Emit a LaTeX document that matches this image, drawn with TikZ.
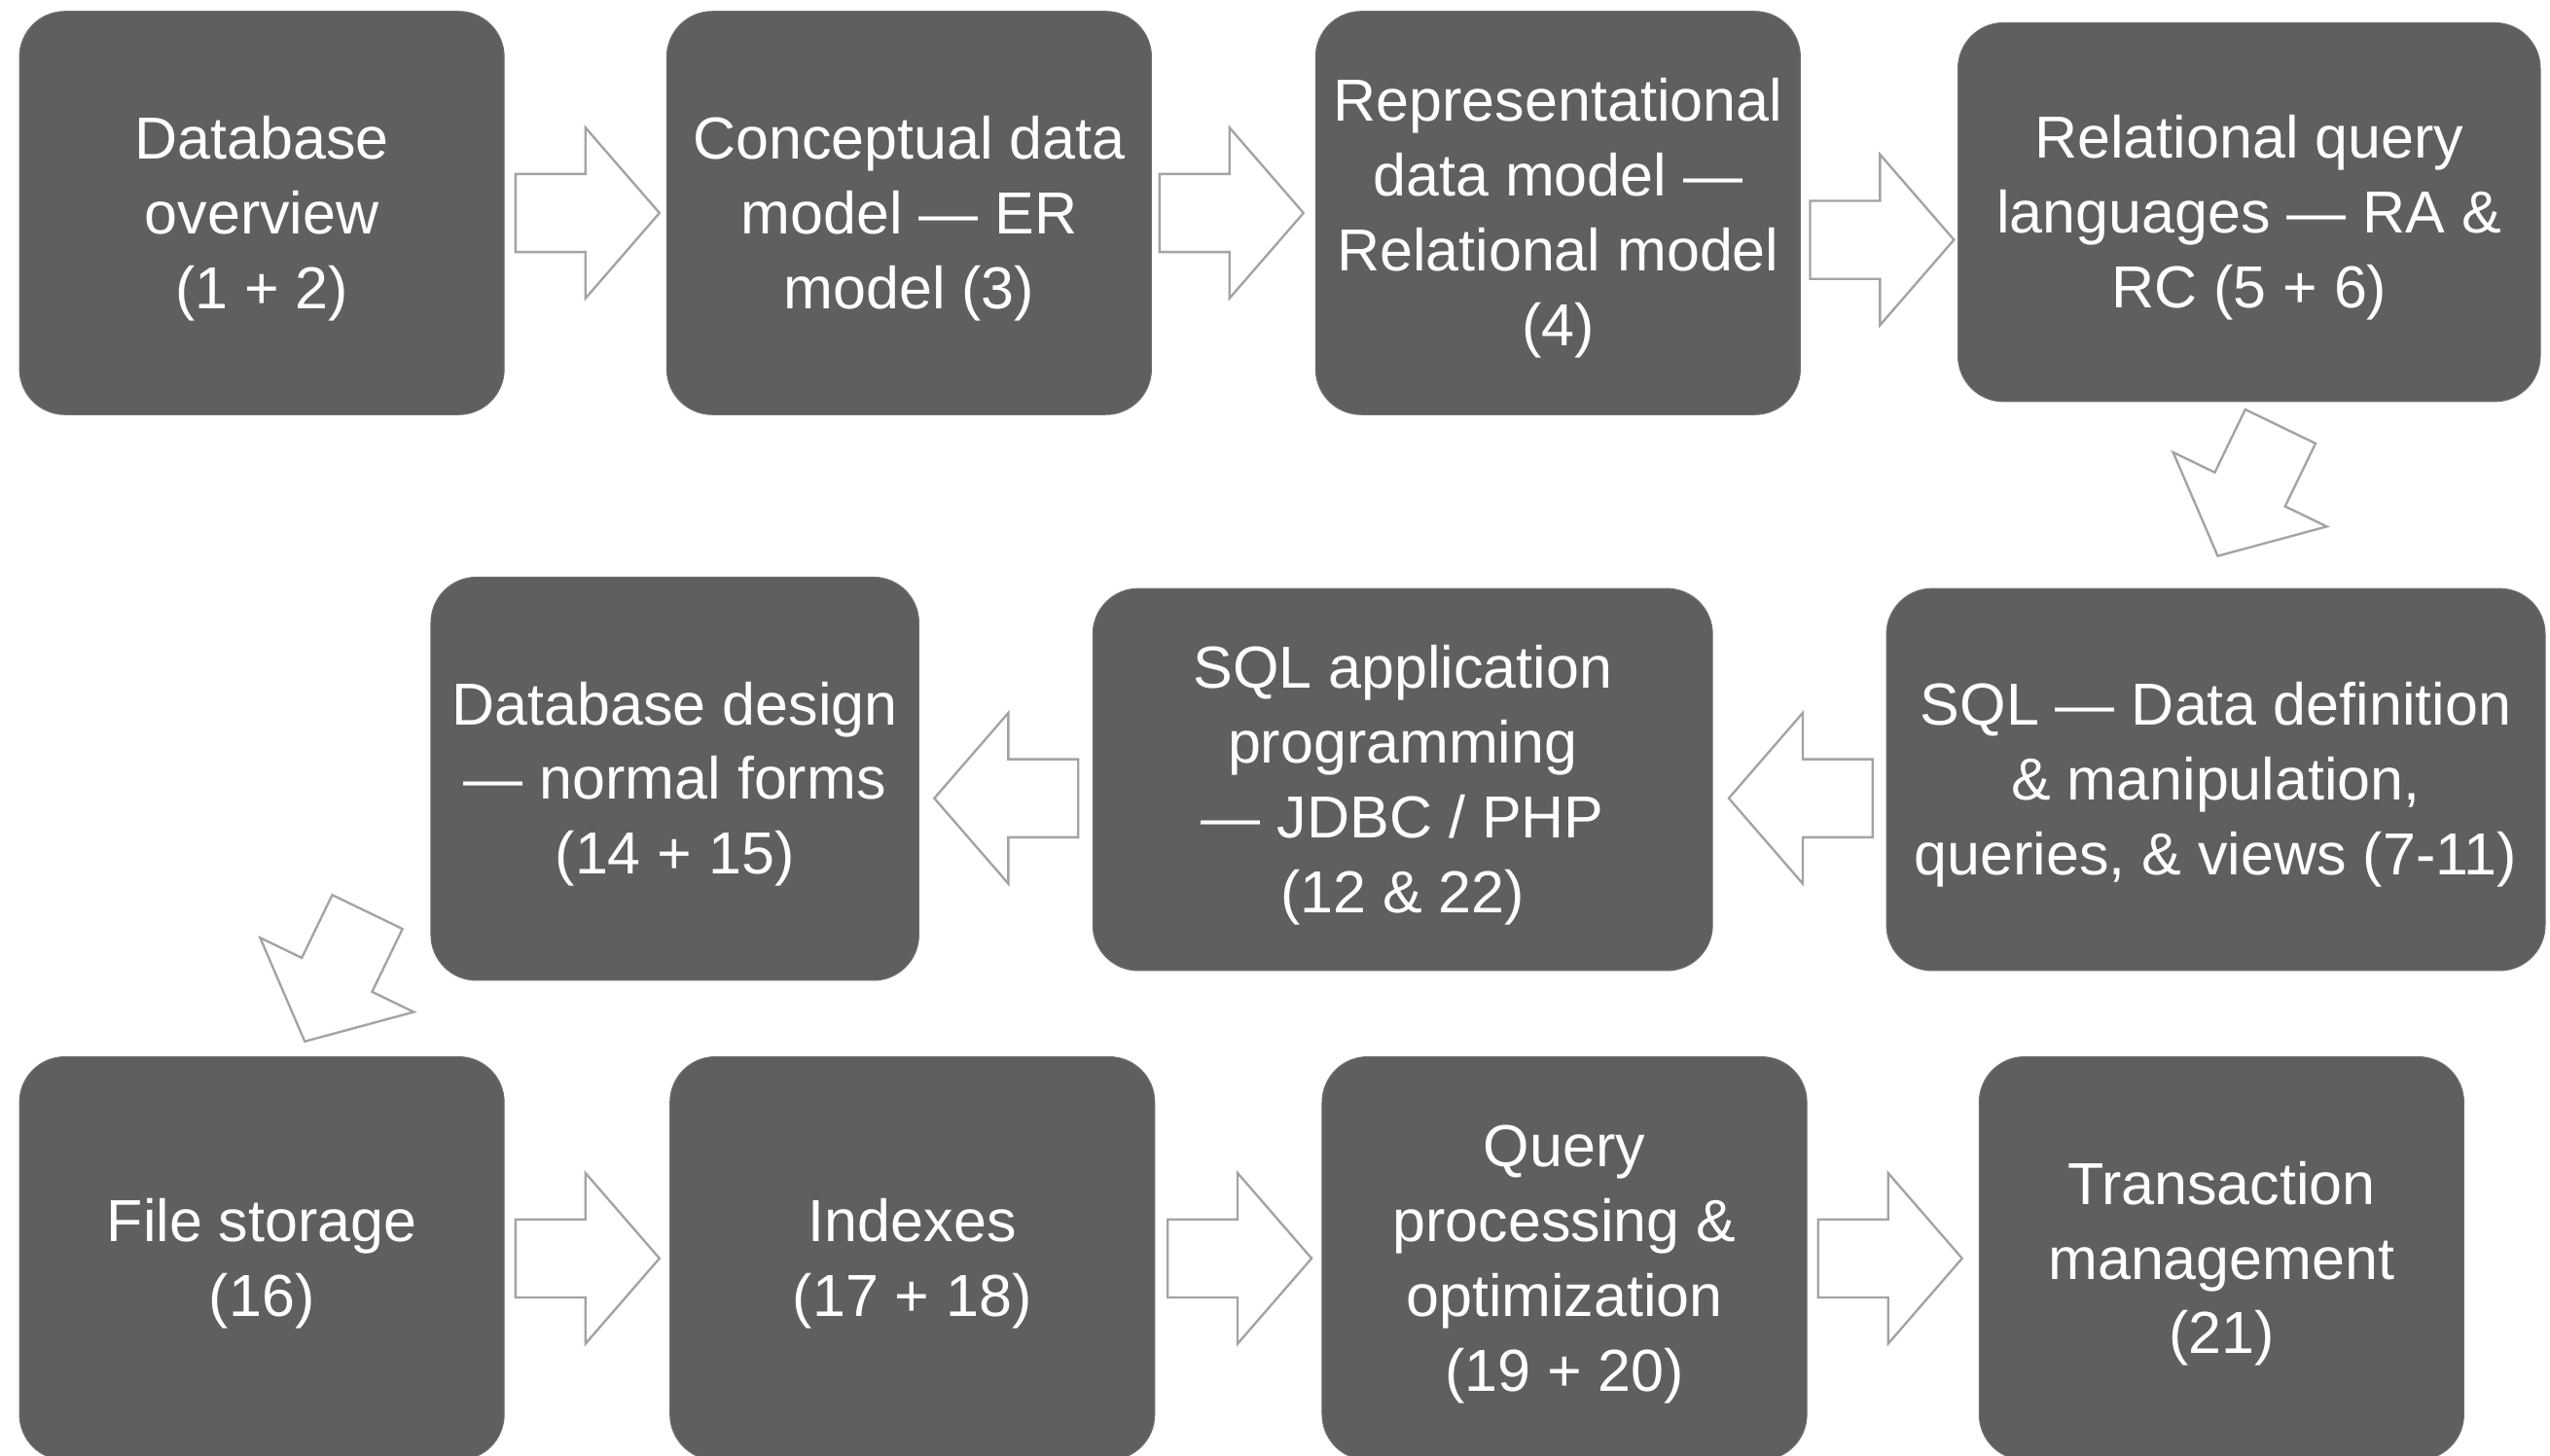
\documentclass[tikz,border=0pt]{standalone}
\usepackage{fontspec}
\setmainfont{Liberation Sans}
\definecolor{boxgray}{HTML}{5F5F5F}
\definecolor{arrowgray}{HTML}{A3A3A3}
\newcommand\tpad{\rule{0pt}{33pt}}
\tikzset{
  topic/.style={fill=boxgray, draw=boxgray!90!white, line width=0.6pt, rounded corners=28pt,
    inner sep=0pt, text=white, align=center,
    font=\fontsize{36.5}{46}\selectfont},
  blockarrow/.style={draw=arrowgray, fill=white, line width=1.4pt, line join=miter}
}
\newcommand\blkarrow[3]{%
  \begin{scope}[shift={(#1,#2)},rotate=#3]
    \draw[blockarrow] (0,-24) -- (43,-24) -- (43,-52.5) -- (88.5,0) -- (43,52.5) -- (43,24) -- (0,24) -- cycle;
  \end{scope}}
\begin{document}
\begin{tikzpicture}[x=1pt,y=-1pt]
\useasboundingbox (0,0) rectangle (1568,895);
\fill[white] (0,0) rectangle (1568,895);
% row 1
\node[topic, minimum width=298pt, minimum height=248pt] (b1) at (161,131) {\tpad Database\\overview\\(1 + 2)};
\node[topic, minimum width=298pt, minimum height=248pt] (b2) at (559,131) {\tpad Conceptual data\\model — ER\\model (3)};
\node[topic, minimum width=298pt, minimum height=248pt] (b3) at (958,131) {\tpad Representational\\data model —\\Relational model\\(4)};
\node[topic, minimum width=358pt, minimum height=233pt] (b4) at (1383,130.5) {\tpad Relational query\\languages — RA \&\\RC (5 + 6)};
% row 2
\node[topic, minimum width=405pt, minimum height=235pt] (b5) at (1362.5,479.5) {\tpad SQL — Data definition\\\& manipulation,\\queries, \& views (7-11)};
\node[topic, minimum width=381pt, minimum height=235pt] (b6) at (862.5,479.5) {\tpad SQL application\\programming\\— JDBC / PHP\\(12 \& 22)};
\node[topic, minimum width=300pt, minimum height=248pt] (b7) at (415,479) {\tpad Database design\\— normal forms\\(14 + 15)};
% row 3
\node[topic, minimum width=298pt, minimum height=248pt] (b8) at (161,774) {\tpad File storage\\(16)};
\node[topic, minimum width=298pt, minimum height=248pt] (b9) at (561,774) {\tpad Indexes\\(17 + 18)};
\node[topic, minimum width=298pt, minimum height=248pt] (b10) at (962,774) {\tpad Query\\processing \&\\optimization\\(19 + 20)};
\node[topic, minimum width=298pt, minimum height=248pt] (b11) at (1366,774) {\tpad Transaction\\management\\(21)};
% arrows
\blkarrow{317}{131}{0}
\blkarrow{713}{131}{0}
\blkarrow{1113}{147.5}{0}
\blkarrow{1402.2}{262.3}{244.2}
\blkarrow{1151.5}{491}{180}
\blkarrow{663}{491}{180}
\blkarrow{225.9}{560.9}{244.2}
\blkarrow{317}{774}{0}
\blkarrow{718}{774}{0}
\blkarrow{1118}{774}{0}
\end{tikzpicture}
\end{document}
